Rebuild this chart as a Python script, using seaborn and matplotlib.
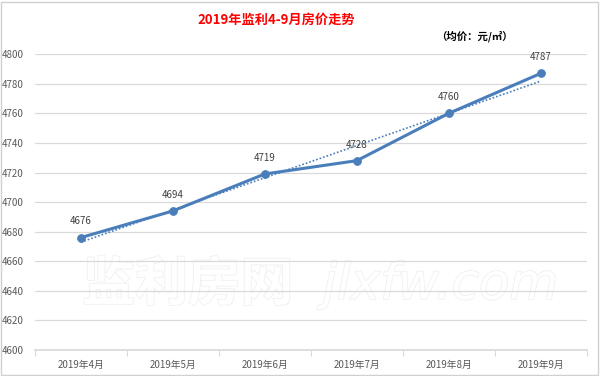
import numpy as np
import pandas as pd
import seaborn as sns
import matplotlib.pyplot as plt
import matplotlib.patheffects as pe
from matplotlib.patches import Rectangle

months = ["2019年4月", "2019年5月", "2019年6月", "2019年7月", "2019年8月", "2019年9月"]
prices = [4676, 4694, 4719, 4728, 4760, 4787]
y_ticks = [4600, 4620, 4640, 4660, 4680, 4700, 4720, 4740, 4760, 4780, 4800]

sns.set_theme(style="white")
plt.rcParams['font.family'] = ['Noto Sans CJK SC', 'DejaVu Sans']

df = pd.DataFrame({"idx": range(len(months)), "month": months, "price": prices})

fig = plt.figure(figsize=(6, 3.76), dpi=100)
ax = fig.add_axes([0.058, 0.069, 0.920, 0.787])

line_color = "#4A7EBB"

# faint watermark
wm = [pe.withStroke(linewidth=1.2, foreground="#f0f0f0")]
ax.text(0.277, 0.22, "监利房网", transform=ax.transAxes, ha="center", va="center",
        fontsize=38, color="white", fontweight="bold", zorder=0, path_effects=wm)
ax.text(0.735, 0.22, "jlxfw.com", transform=ax.transAxes, ha="center", va="center",
        fontsize=36, color="white", fontstyle="italic", zorder=0, path_effects=wm,
        family=["DejaVu Sans"])

# linear trend line (dotted)
coef = np.polyfit(df["idx"], df["price"], 1)
df["trend"] = np.polyval(coef, df["idx"])
sns.lineplot(data=df, x="idx", y="trend", ax=ax, color=line_color, lw=1.2,
             linestyle=(0, (1, 1.2)), zorder=3)

sns.lineplot(data=df, x="idx", y="price", ax=ax, color=line_color, lw=2.2,
             marker="o", markersize=5.5, markeredgecolor=line_color, zorder=4)

for i, v in enumerate(prices):
    ax.annotate(str(v), (i, v), xytext=(0, 8), textcoords="offset points",
                ha="center", va="bottom", fontsize=7, color="#404040")

ax.set_xlim(-0.5, len(months) - 0.5)
ax.set_ylim(4600, 4800)
ax.set_yticks(y_ticks)
ax.set_xticks(range(len(months)))
ax.set_xticklabels(months)
ax.set_xticks(np.arange(-0.5, len(months)), minor=True)
ax.tick_params(axis="x", which="major", length=0, labelsize=7, labelcolor="#595959", pad=7)
ax.tick_params(axis="x", which="minor", length=4, color="#d9d9d9", width=0.8, direction="out", bottom=True)
ax.tick_params(axis="y", length=0, labelsize=7, labelcolor="#595959", pad=8)
ax.grid(axis="y", color="#d9d9d9", lw=0.9)
ax.set_axisbelow(True)
for s in ["top", "right", "left"]:
    ax.spines[s].set_visible(False)
ax.spines["bottom"].set_color("#d9d9d9")
ax.set(xlabel=None, ylabel=None)

fig.text(0.46, 0.947, "2019年监利4-9月房价走势", ha="center", va="center",
         fontsize=9.5, color="#ff0000", fontweight="bold")
fig.text(0.79, 0.905, "（均价：元/㎡）", ha="center", va="center",
         fontsize=7.5, color="black", fontweight="bold")

fig.patches.append(Rectangle((0.002, 0.003), 0.995, 0.993, transform=fig.transFigure,
                             fill=False, edgecolor="#d0d0d0", lw=1))

fig.savefig("out.png", dpi=100)
